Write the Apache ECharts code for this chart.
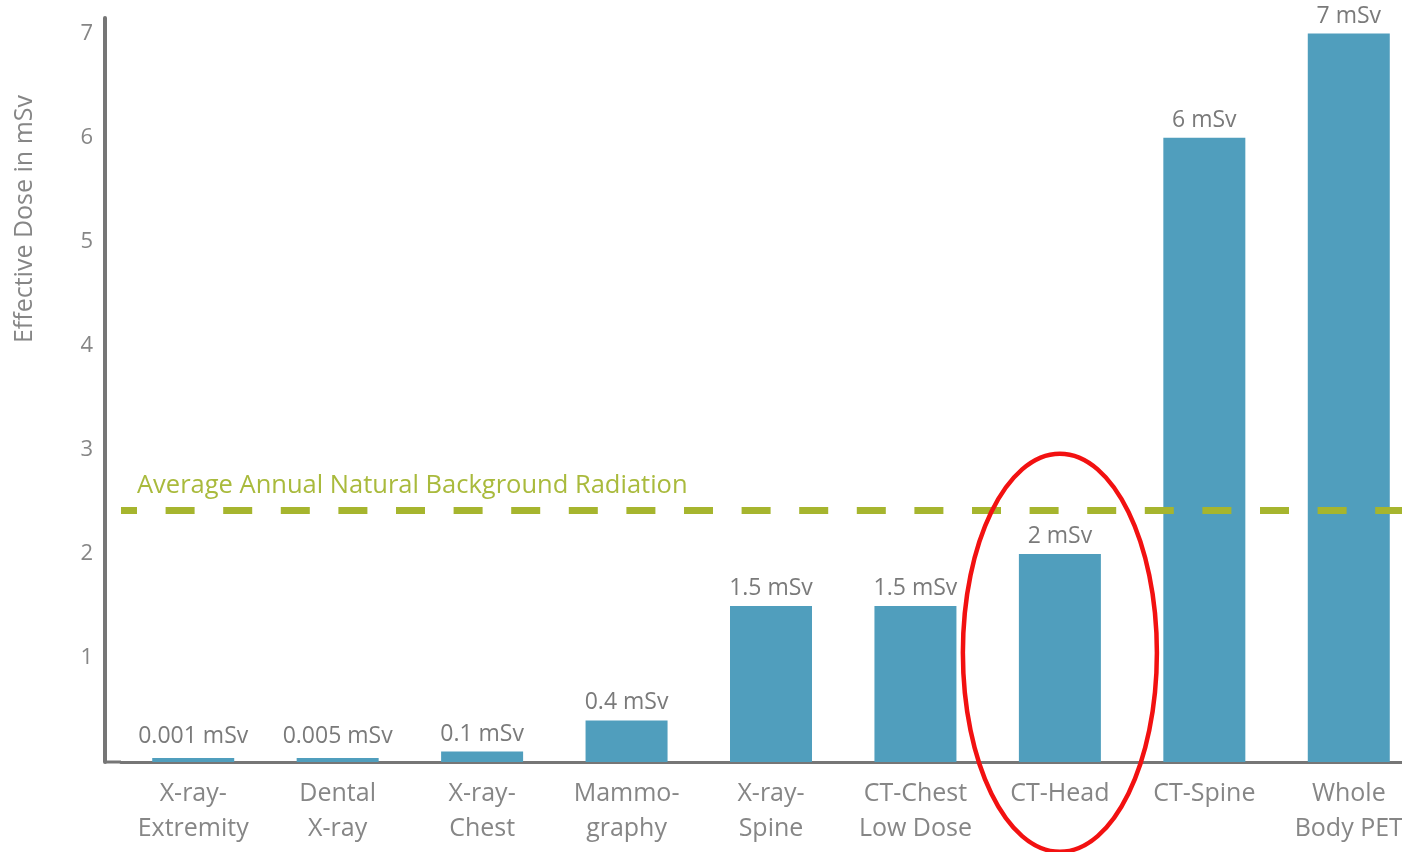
<!DOCTYPE html>
<html>
<head>
<meta charset="utf-8">
<title>Effective Dose</title>
<script src="https://cdn.jsdelivr.net/npm/echarts@6/dist/echarts.min.js"></script>
<style>
  html, body { margin: 0; padding: 0; background: #fff; }
  #main { width: 1402px; height: 852px; }
</style>
</head>
<body>
<div id="main"></div>
<script>
// exam names, two lines where the original wraps
const categories = [
    'X-ray-\nExtremity', 'Dental\nX-ray', 'X-ray-\nChest', 'Mammo-\ngraphy',
    'X-ray-\nSpine', 'CT-Chest\nLow Dose', 'CT-Head', 'CT-Spine', 'Whole\nBody PET'
];
const doses = [0.001, 0.005, 0.1, 0.4, 1.5, 1.5, 2, 6, 7];
const doseLabels = ['0.001 mSv', '0.005 mSv', '0.1 mSv', '0.4 mSv', '1.5 mSv', '1.5 mSv', '2 mSv', '6 mSv', '7 mSv'];
const yTicks = [1, 2, 3, 4, 5, 6, 7];
const background = 2.42;
const backgroundText = 'Average Annual Natural Background Radiation';
const highlighted = 'CT-Head';

const font = 'Open Sans';
const grey = '#868686';
const gridLeft = 121, gridBottom = 90;

// the near-zero bars sit a little lower than their labels in the original
const barData = doses.map(v => (v < 0.05 ? { value: v, label: { distance: 10 } } : v));

const myChart = echarts.init(document.getElementById('main'));
const option = {
    animation: false,
    textStyle: { fontFamily: font },
    grid: { left: gridLeft, right: -19, top: 18, bottom: gridBottom, containLabel: false, outerBoundsMode: 'none' },
    xAxis: {
        type: 'category',
        data: categories,
        axisLine: { lineStyle: { color: '#767676', width: 3 } },
        axisTick: { show: false },
        axisLabel: { color: grey, fontSize: 25, lineHeight: 35, margin: 14, interval: 0 }
    },
    yAxis: {
        type: 'value',
        min: 0,
        max: 7.15,
        interval: 1,
        offset: 16,
        splitLine: { show: false },
        axisLine: { show: true, lineStyle: { color: '#767676', width: 4 } },
        axisTick: { show: false },
        axisLabel: {
            color: grey, fontSize: 22, margin: 12,
            formatter: v => (yTicks.indexOf(v) >= 0 ? String(v) : '')
        }
    },
    series: [{
        type: 'bar',
        data: barData,
        barWidth: 82,
        barMinHeight: 4,
        itemStyle: { color: '#509ebd' },
        label: {
            show: true,
            position: 'top',
            distance: 6,
            color: '#7a7a7a',
            fontSize: 23,
            formatter: p => doseLabels[p.dataIndex]
        },
        markLine: {
            silent: true,
            symbol: ['none', 'none'],
            lineStyle: { color: '#a6b52e', width: 7, type: [29, 28.6], dashOffset: 13, opacity: 1 },
            label: {
                position: 'insideStartTop',
                formatter: backgroundText,
                color: '#a9ba3c',
                fontSize: 25.5,
                distance: [16, 11]
            },
            data: [{ yAxis: background }]
        }
    }]
};
myChart.setOption(option);

// red ring drawn round the CT-Head bar, plus the short stub of x axis left of the grid
const centre = myChart.convertToPixel({ xAxisIndex: 0, yAxisIndex: 0 }, [categories.indexOf(highlighted), 1.05]);
const axisY = 852 - gridBottom;
myChart.setOption({
    graphic: [
        {
            type: 'ellipse',
            shape: { cx: centre[0], cy: centre[1], rx: 97, ry: 199 },
            style: { fill: 'none', stroke: '#f21111', lineWidth: 4.5 },
            z: 100
        },
        {
            type: 'line',
            shape: { x1: 105, y1: axisY, x2: gridLeft, y2: axisY },
            style: { stroke: '#767676', lineWidth: 3 }
        },
        {
            type: 'text',
            x: 25, y: 219,
            rotation: Math.PI / 2,
            style: { text: 'Effective Dose in mSv', fill: grey, font: '25px "Open Sans"', align: 'center', verticalAlign: 'middle' }
        }
    ]
});
</script>
</body>
</html>
